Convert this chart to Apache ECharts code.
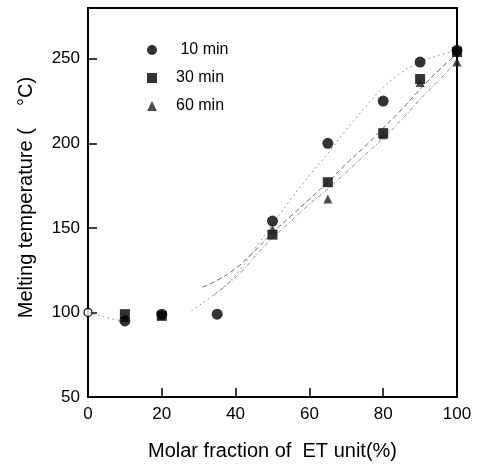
<!DOCTYPE html>
<html>
<head>
<meta charset="utf-8">
<script src="https://cdn.jsdelivr.net/npm/echarts@6/dist/echarts.min.js"></script>
<style>html,body{margin:0;padding:0;background:#fff}#c{width:483px;height:468px}</style>
</head>
<body>
<div id="c"></div>
<script>
// Measured points
var x10 = [0, 10, 20, 35, 50, 65, 80, 90, 100];
var y10 = [100, 95, 99, 99, 154, 200, 225, 248, 255];
var x30 = [10, 20, 50, 65, 80, 90, 100];
var y30 = [99, 98, 146, 177, 206, 238, 254];
var x60 = [10, 20, 50, 65, 80, 90, 100];
var y60 = [97, 98, 149, 167, 205, 236, 248];

// Fitted curves
var fitX10 = [0, 4, 9, null, 28, 35, 40, 45, 50, 55, 60, 65, 70, 75, 80, 85, 90, 95, 100];
var fitY10 = [100, 97.5, 95, null, 101, 112, 122, 137, 152, 167, 181, 194, 208, 221, 233, 242, 248, 252, 255];
var fitX30 = [31, 35, 40, 45, 50, 55, 60, 65, 70, 75, 80, 85, 90, 95, 100];
var fitY30 = [115, 119, 126, 136, 147, 157, 167, 177, 188, 198, 209, 220, 232, 243, 253];
var fitX60 = [34, 38, 42, 46, 50, 55, 60, 65, 70, 75, 80, 85, 90, 95, 100];
var fitY60 = [110, 117, 125, 135, 144, 154, 164, 173, 183, 193, 203, 214, 226, 237, 249];

var seriesNames = ['10 min', '30 min', '60 min'];
var xTicks = [0, 20, 40, 60, 80, 100];
var yTicks = [50, 100, 150, 200, 250];

function pairs(xs, ys) {
  return xs.map(function (x, i) { return x === null ? [null, null] : [x, ys[i]]; });
}
var d10 = pairs(x10, y10);
d10[0] = { value: d10[0], itemStyle: { color: '#fff', borderColor: '#000', borderWidth: 1.5 }, symbolSize: 8 };

var chart = echarts.init(document.getElementById('c'), null, { renderer: 'canvas' });
var font = 'Liberation Sans, Arial, sans-serif';
chart.setOption({
  animation: false,
  backgroundColor: '#fff',
  textStyle: { fontFamily: font },
  grid: { left: 88, top: 8, right: 26, bottom: 71, show: true, borderColor: '#000', borderWidth: 2, backgroundColor: 'transparent' },
  legend: {
    data: [
      { name: seriesNames[0], icon: 'circle' },
      { name: seriesNames[1], icon: 'rect' },
      { name: seriesNames[2], icon: 'triangle' }
    ],
    formatter: function (n) { return n === seriesNames[0] ? ' ' + n : n; },
    orient: 'vertical', left: 142, top: 37, itemWidth: 10, itemHeight: 10, itemGap: 12,
    textStyle: { fontSize: 16, color: '#000', fontFamily: font, padding: [0, 0, 0, 14] }
  },
  xAxis: {
    type: 'value', min: 0, max: 100, interval: 20,
    name: 'Molar fraction of  ET unit(%)', nameLocation: 'middle', nameGap: 44,
    nameTextStyle: { fontSize: 20, color: '#000', fontFamily: font },
    axisLine: { show: true, lineStyle: { color: '#000', width: 2 } },
    axisTick: { show: true, inside: true, length: 9, lineStyle: { color: '#000', width: 1.5 } },
    axisLabel: { fontSize: 17, color: '#000', margin: 9, fontFamily: font,
      formatter: function (v) { return xTicks.indexOf(v) >= 0 ? String(v) : ''; } },
    splitLine: { show: false }
  },
  yAxis: {
    type: 'value', min: 50, max: 280, interval: 50,
    name: 'Melting temperature (    \u00B0C)', nameLocation: 'middle', nameGap: 52,
    nameTextStyle: { fontSize: 20, color: '#000', fontFamily: font, padding: [0, 0, 0, 10] },
    axisLine: { show: true, lineStyle: { color: '#000', width: 2 } },
    axisTick: { show: true, inside: true, length: 9, lineStyle: { color: '#000', width: 1.5 } },
    axisLabel: { fontSize: 17, color: '#000', margin: 8, fontFamily: font,
      formatter: function (v) { return yTicks.indexOf(v) >= 0 ? String(v) : ''; } },
    splitLine: { show: false }
  },
  series: [
    { name: seriesNames[0], type: 'scatter', data: d10, symbol: 'circle', symbolSize: 11, itemStyle: { color: '#000' }, z: 5 },
    { name: seriesNames[1], type: 'scatter', data: pairs(x30, y30), symbol: 'rect', symbolSize: 10, itemStyle: { color: '#000' }, z: 4 },
    { name: seriesNames[2], type: 'scatter', data: pairs(x60, y60), symbol: 'triangle', symbolSize: 9, itemStyle: { color: '#222' }, z: 4 },
    { name: 'fit10', type: 'line', data: pairs(fitX10, fitY10), smooth: true, showSymbol: false, connectNulls: false,
      lineStyle: { color: '#999', width: 1, type: [2, 3] }, z: 2, silent: true },
    { name: 'fit30', type: 'line', data: pairs(fitX30, fitY30), smooth: true, showSymbol: false,
      lineStyle: { color: '#666', width: 1, type: [5, 3] }, z: 2, silent: true },
    { name: 'fit60', type: 'line', data: pairs(fitX60, fitY60), smooth: true, showSymbol: false,
      lineStyle: { color: '#888', width: 1, type: [4, 2, 1, 2] }, z: 2, silent: true }
  ]
});
</script>
</body>
</html>
